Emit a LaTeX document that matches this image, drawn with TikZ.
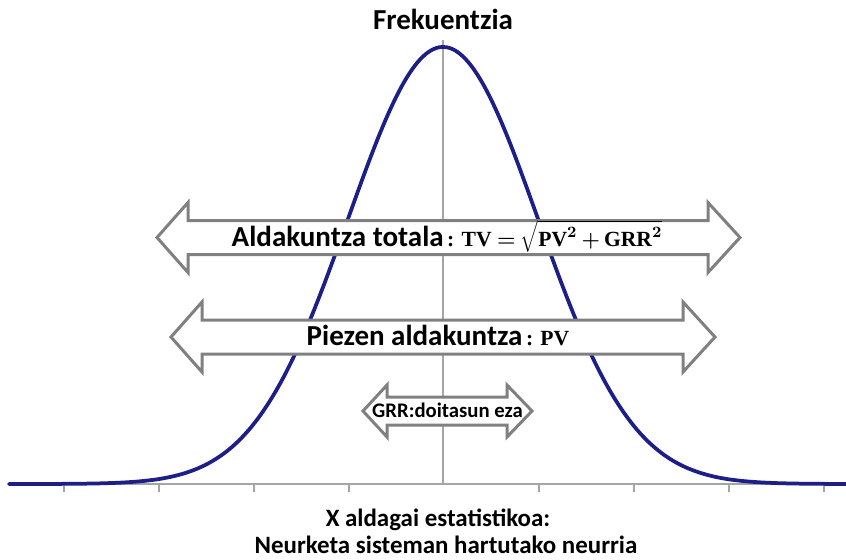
\documentclass[tikz,border=0pt]{standalone}
\usepackage[no-math]{fontspec}
\setmainfont{Carlito}
\newfontfamily\fmlfont{Liberation Serif}
\usetikzlibrary{positioning}
\definecolor{curveblue}{RGB}{30,30,135}
\definecolor{arrowgray}{RGB}{128,128,128}
\definecolor{axisgray}{RGB}{165,165,165}
\newcommand{\fmlsize}{\fontsize{12.3}{14}\selectfont\boldmath\fmlfont\medmuskip=3mu\thickmuskip=4mu}
\newcommand{\fmltxt}[1]{\mbox{\fmlfont\bfseries #1}}

\begin{document}
\begin{tikzpicture}[x=0.02cm, y=-0.02cm,
    blockarrow/.style={draw=arrowgray, fill=white, line width=0.06cm, line join=miter},
    axisline/.style={draw=axisgray, line width=0.04cm},
    biglabel/.style={font=\bfseries\fontsize{16.5}{19}\selectfont, inner sep=0pt, anchor=base},
    smalllabel/.style={font=\bfseries\fontsize{11.8}{14}\selectfont, inner sep=0pt, anchor=base},
    axislabel/.style={font=\bfseries\fontsize{14.2}{17}\selectfont, inner sep=0pt, anchor=base}
]
\useasboundingbox (0,0) rectangle (846,559);

% Axis with ticks every sigma
\draw[axisline] (9,484) -- (846,484);
\foreach \t in {63.5,158.5,253.5,348.5,538.5,633.5,728.5,823.5}
    \draw[axisline] (\t,484) -- (\t,492);
\draw[axisline] (443,40) -- (443,484);

% Normal distribution curve
\draw[curveblue, line width=0.075cm, line cap=round]
    plot[domain=9:846, samples=240, smooth] (\x, {484-437*exp(-0.5*((\x-443)/95)^2)});

% Total variation
\draw[blockarrow] (157,237.5) -- (188,202.5) -- (188,220.5) -- (708,220.5) -- (708,202.5)
    -- (740,237.5) -- (708,272.5) -- (708,254.5) -- (188,254.5) -- (188,272.5) -- cycle;
% Part variation
\draw[blockarrow] (171,337) -- (202,302) -- (202,320) -- (683,320) -- (683,302)
    -- (715,337) -- (683,372) -- (683,354) -- (202,354) -- (202,372) -- cycle;
% Measurement system
\draw[blockarrow] (363,411) -- (387,385) -- (387,397) -- (507,397) -- (507,385)
    -- (532,411) -- (507,437) -- (507,425) -- (387,425) -- (387,437) -- cycle;

% Labels
\node[biglabel] (freq) at (443,29) {Frekuentzia};
\node[biglabel] (tv) at (447,246) {Aldakuntza totala{\fmlsize\,\textbf{:} $\fmltxt{TV}=\sqrt{\fmltxt{PV}^{2}+\fmltxt{GRR}^{2}}$}};
\node[biglabel] (pv) at (438,345) {Piezen aldakuntza{\fmlsize\,\textbf{: PV}}};
\node[smalllabel] (grr) at (447.5,417) {GRR:doitasun eza};
\node[axislabel] (xvar) at (438,526) {X aldagai estatistikoa:};
\node[axislabel] (xmeas) at (446,553) {Neurketa sisteman hartutako neurria};

\end{tikzpicture}
\end{document}
